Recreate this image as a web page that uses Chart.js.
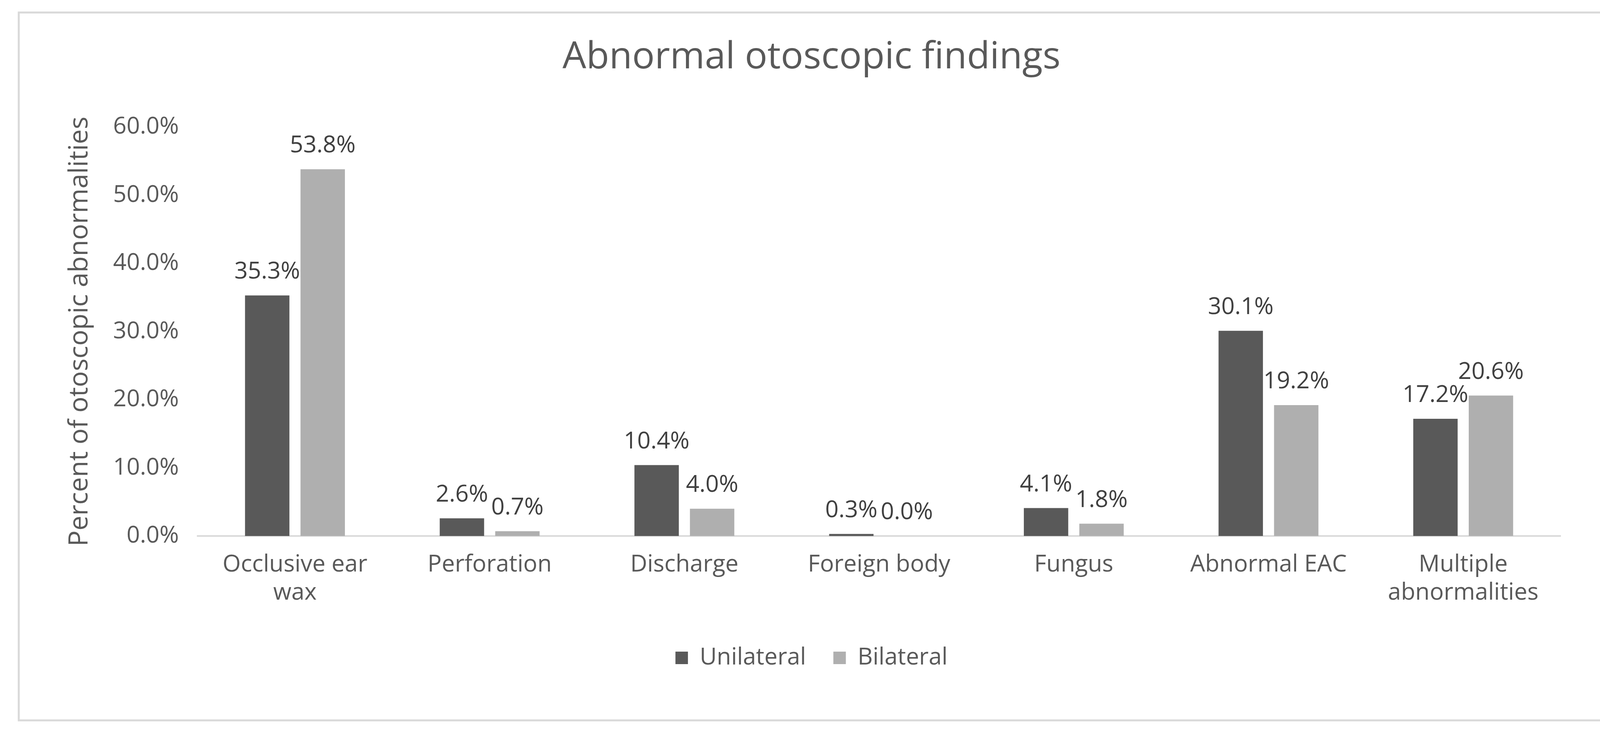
<!DOCTYPE html>
<html>
<head>
<meta charset="utf-8">
<script src="https://cdn.jsdelivr.net/npm/chart.js@4"></script>
<style>
  html, body { margin: 0; padding: 0; background: #fff; }
  #wrap { width: 4175px; height: 1884px; }
</style>
</head>
<body>
<div id="wrap"><canvas id="chartCanvas"></canvas></div>
<script>
const categories = [["Occlusive ear", "wax"], "Perforation", "Discharge", "Foreign body", "Fungus", "Abnormal EAC", ["Multiple", "abnormalities"]];
const unilateral = [35.3, 2.6, 10.4, 0.3, 4.1, 30.1, 17.2];
const bilateral = [53.8, 0.7, 4.0, 0.0, 1.8, 19.2, 20.6];

const textGray = "#595959";

// value labels above each bar
const barLabels = {
    id: "barLabels",
    afterDatasetsDraw(chart) {
        const ctx = chart.ctx;
        ctx.save();
        ctx.font = "60px 'Open Sans'";
        ctx.fillStyle = "#404040";
        ctx.textAlign = "center";
        ctx.textBaseline = "bottom";
        chart.data.datasets.forEach(function (ds, i) {
            chart.getDatasetMeta(i).data.forEach(function (bar, j) {
                ctx.fillText(ds.data[j].toFixed(1) + "%", bar.x, bar.y - 30);
            });
        });
        ctx.restore();
    }
};

// outer frame
const frame = {
    id: "frame",
    beforeDraw(chart) {
        const ctx = chart.ctx;
        ctx.save();
        ctx.strokeStyle = "#d9d9d9";
        ctx.lineWidth = 5;
        ctx.strokeRect(48, 32, 4080, 1812);
        ctx.restore();
    }
};

const ctx = document.getElementById("chartCanvas").getContext("2d");
new Chart(ctx, {
    type: "bar",
    data: {
        labels: categories,
        datasets: [
            { label: "Unilateral", data: unilateral, backgroundColor: "#595959" },
            { label: "Bilateral", data: bilateral, backgroundColor: "#afafaf" }
        ]
    },
    options: {
        responsive: true,
        maintainAspectRatio: false,
        animation: false,
        devicePixelRatio: 1,
        datasets: { bar: { categoryPercentage: 0.57, barPercentage: 0.8 } },
        layout: { padding: { left: 160, right: 180, top: 60, bottom: 160 } },
        plugins: {
            title: {
                display: true,
                text: "Abnormal otoscopic findings",
                color: textGray,
                font: { family: "'Open Sans'", size: 96, weight: "normal" },
                padding: { top: 30, bottom: 120 }
            },
            legend: {
                position: "bottom",
                labels: {
                    color: textGray,
                    font: { family: "'Open Sans'", size: 60 },
                    boxWidth: 32,
                    boxHeight: 32,
                    padding: 70
                }
            },
            tooltip: { enabled: false }
        },
        scales: {
            y: {
                min: 0,
                max: 60,
                ticks: {
                    stepSize: 10,
                    color: textGray,
                    font: { family: "'Open Sans'", size: 60 },
                    padding: 40,
                    callback: function (v) { return v.toFixed(1) + "%"; }
                },
                grid: { display: false },
                border: { display: false },
                title: {
                    display: true,
                    text: "Percent of otoscopic abnormalities",
                    color: textGray,
                    font: { family: "'Open Sans'", size: 68 }
                }
            },
            x: {
                ticks: {
                    color: textGray,
                    font: { family: "'Open Sans'", size: 60 },
                    padding: 30,
                    maxRotation: 0
                },
                grid: { display: false },
                border: { color: "#d9d9d9", width: 4 }
            }
        }
    },
    plugins: [barLabels, frame]
});
</script>
</body>
</html>
